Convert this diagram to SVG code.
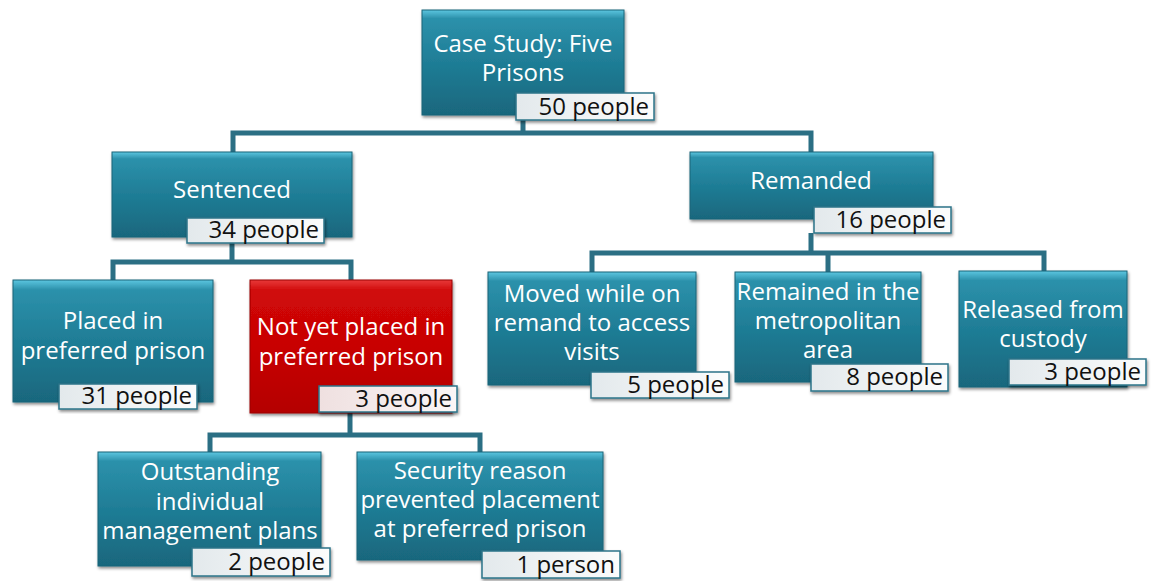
<svg xmlns="http://www.w3.org/2000/svg" width="1152" height="581" viewBox="0 0 1152 581">
<defs>
<linearGradient id="gT" x1="0" y1="0" x2="0" y2="1">
<stop offset="0" stop-color="#5cc6e0"/>
<stop offset="0.08" stop-color="#2c91ab"/>
<stop offset="0.5" stop-color="#1f7d96"/>
<stop offset="1" stop-color="#19677d"/>
</linearGradient>
<linearGradient id="gR" x1="0" y1="0" x2="0" y2="1">
<stop offset="0" stop-color="#e83a3a"/>
<stop offset="0.08" stop-color="#d00808"/>
<stop offset="0.5" stop-color="#c80404"/>
<stop offset="1" stop-color="#b40000"/>
</linearGradient>
<linearGradient id="gL" x1="0" y1="0" x2="1" y2="0">
<stop offset="0" stop-color="#e3e9ec"/>
<stop offset="1" stop-color="#fbfcfc"/>
</linearGradient>
<linearGradient id="gLR" x1="0" y1="0" x2="1" y2="0">
<stop offset="0" stop-color="#efe0e0"/>
<stop offset="1" stop-color="#fbf6f6"/>
</linearGradient>
<filter id="sh" x="-10%" y="-10%" width="125%" height="130%">
<feDropShadow dx="1" dy="2" stdDeviation="1.5" flood-color="#000" flood-opacity="0.45"/>
</filter>
</defs>
<style>
.n{fill:url(#gT);stroke:#1b6478;stroke-width:1;filter:url(#sh)}
.r{fill:url(#gR);stroke:#9a0000;stroke-width:1;filter:url(#sh)}
.l{fill:url(#gL);stroke:#2b7489;stroke-width:1.5;filter:url(#sh)}
.lr{fill:url(#gLR);stroke:#2b7489;stroke-width:1.5;filter:url(#sh)}
.t{font-family:"Open Sans","Noto Sans","DejaVu Sans",sans-serif;font-size:24px;fill:#ffffff;text-anchor:middle}
.c{font-family:"Open Sans","Noto Sans","DejaVu Sans",sans-serif;font-size:24px;fill:#111111;text-anchor:end}
.k{fill:none;stroke:#2b6f84;stroke-width:5;stroke-linejoin:miter}
</style>
<g id="connectors">
<path class="k" d="M233,152 V133 H811 V152 M523,120 V133"/>
<path class="k" d="M232,243 V262 M113,280 V262 H351 V280"/>
<path class="k" d="M350,412 V435 M210,452 V435 H480 V452"/>
<path class="k" d="M811,233 V253 M592,272 V253 H1044 V271 M828,253 V272"/>
</g>
<g id="n-case">
<rect class="n" x="422" y="10" width="202" height="105"/>
<text class="t" x="523" y="52">Case Study: Five</text>
<text class="t" x="523" y="81">Prisons</text>
<rect class="l" x="516" y="93" width="138" height="27"/>
<text class="c" x="649" y="115">50 people</text>
</g>
<g id="n-sentenced">
<rect class="n" x="112" y="152" width="240" height="85"/>
<text class="t" x="232" y="198">Sentenced</text>
<rect class="l" x="187" y="218" width="137" height="25"/>
<text class="c" x="319" y="238">34 people</text>
</g>
<g id="n-remanded">
<rect class="n" x="690" y="152" width="243" height="67"/>
<text class="t" x="811" y="189">Remanded</text>
<rect class="l" x="814" y="207" width="137" height="26"/>
<text class="c" x="946" y="228">16 people</text>
</g>
<g id="n-placed">
<rect class="n" x="13" y="280" width="200" height="122"/>
<text class="t" x="113" y="329">Placed in</text>
<text class="t" x="113" y="359">preferred prison</text>
<rect class="l" x="59" y="384" width="138" height="25"/>
<text class="c" x="192" y="404">31 people</text>
</g>
<g id="n-notyet">
<rect class="r" x="250" y="280" width="202" height="133"/>
<text class="t" x="351" y="335">Not yet placed in</text>
<text class="t" x="351" y="365">preferred prison</text>
<rect class="lr" x="319" y="386" width="138" height="26"/>
<text class="c" x="452" y="407">3 people</text>
</g>
<g id="n-outstanding">
<rect class="n" x="98" y="452" width="223" height="114"/>
<text class="t" x="210" y="480">Outstanding</text>
<text class="t" x="210" y="510">individual</text>
<text class="t" x="210" y="539">management plans</text>
<rect class="l" x="192" y="548" width="138" height="28"/>
<text class="c" x="325" y="570">2 people</text>
</g>
<g id="n-security">
<rect class="n" x="357" y="452" width="246" height="108"/>
<text class="t" x="480" y="479">Security reason</text>
<text class="t" x="480" y="508">prevented placement</text>
<text class="t" x="480" y="537">at preferred prison</text>
<rect class="l" x="482" y="551" width="138" height="27"/>
<text class="c" x="615" y="573">1 person</text>
</g>
<g id="n-moved">
<rect class="n" x="488" y="272" width="208" height="113"/>
<text class="t" x="592" y="302">Moved while on</text>
<text class="t" x="592" y="331">remand to access</text>
<text class="t" x="592" y="360">visits</text>
<rect class="l" x="591" y="372" width="138" height="26"/>
<text class="c" x="724" y="393">5 people</text>
</g>
<g id="n-remained">
<rect class="n" x="735" y="272" width="186" height="110"/>
<text class="t" x="828" y="300">Remained in the</text>
<text class="t" x="828" y="329">metropolitan</text>
<text class="t" x="828" y="358">area</text>
<rect class="l" x="811" y="364" width="137" height="27"/>
<text class="c" x="943" y="385">8 people</text>
</g>
<g id="n-released">
<rect class="n" x="959" y="271" width="168" height="116"/>
<text class="t" x="1043" y="318">Released from</text>
<text class="t" x="1043" y="347">custody</text>
<rect class="l" x="1009" y="359" width="137" height="26"/>
<text class="c" x="1141" y="380">3 people</text>
</g>
</svg>
